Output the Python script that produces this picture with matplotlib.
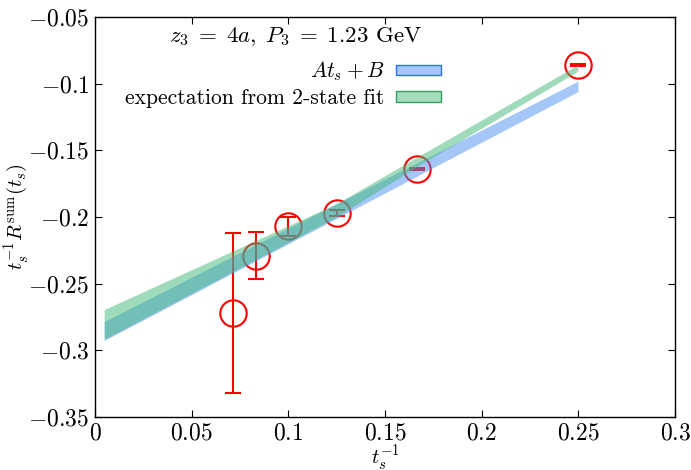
import numpy as np
import matplotlib
matplotlib.use("Agg")
import matplotlib.pyplot as plt
from matplotlib.ticker import FuncFormatter

plt.rcParams['font.family'] = 'serif'
plt.rcParams['font.serif'] = ['cmr10', 'DejaVu Serif']
plt.rcParams['mathtext.fontset'] = 'cm'
plt.rcParams['axes.unicode_minus'] = False

# data points: t_s^{-1}, ratio and error
inv_ts = [1/14, 1/12, 1/10, 1/8, 1/6, 1/4]
ratio = [-0.272, -0.229, -0.207, -0.197, -0.164, -0.086]
ratio_err = [0.060, 0.0175, 0.007, 0.002, 0.001, 0.001]

# linear fit band A t_s + B
fit_x = [0.005, 0.25]
fit_hi = [-0.2788, -0.0985]
fit_lo = [-0.293, -0.1063]

# expectation from 2-state fit
exp_x = [0.005, 0.125, 0.1667, 0.25]
exp_hi = [-0.2698, -0.1905, -0.1555, -0.0862]
exp_lo = [-0.292, -0.2005, -0.1625, -0.091]

fig = plt.figure(figsize=(6.91, 4.70), dpi=100)
ax = fig.add_axes([0.1375, 0.1128, 0.8395, 0.851])

ax.errorbar(inv_ts, ratio, yerr=ratio_err, fmt='o', color='red',
            mfc='none', mec='red', ms=19, mew=1.5, elinewidth=1.5,
            capsize=6, capthick=1.5, zorder=2)

ax.fill_between(fit_x, fit_lo, fit_hi, facecolor='#4a90f0', alpha=0.5,
                edgecolor='none', zorder=3)
ax.fill_between(exp_x, exp_lo, exp_hi, facecolor='#40b878', alpha=0.5,
                edgecolor='none', zorder=4)

# legend proxies
h1 = plt.Rectangle((0, 0), 1, 1, facecolor='#a4c8f8', edgecolor='#2a70f0', lw=1)
h2 = plt.Rectangle((0, 0), 1, 1, facecolor='#a6dcbc', edgecolor='#30a060', lw=1)
ax.legend([h1, h2], ['$At_s+B$', 'expectation from 2-state fit'],
          loc='upper right', bbox_to_anchor=(0.612, 0.915), frameon=False,
          markerfirst=False, handlelength=2.1, handleheight=0.35,
          labelspacing=0.25, fontsize=15.5, borderaxespad=0, handletextpad=0.55)

ax.text(0.345, 0.95, r'$z_3\;=\;4a,\;P_3\;=\;1.23$ GeV', transform=ax.transAxes,
        ha='center', va='center', fontsize=16.5)

ax.set_xlim(0, 0.3)
ax.set_ylim(-0.35, -0.05)
ax.set_xticks(np.arange(0, 0.31, 0.05))
ax.set_yticks(np.arange(-0.35, -0.049, 0.05))
fmt = FuncFormatter(lambda v, p: '$%g$' % round(v, 3))
ax.xaxis.set_major_formatter(fmt)
ax.yaxis.set_major_formatter(fmt)
ax.tick_params(direction='in', top=True, right=True, length=5, width=0.8,
               labelsize=17, pad=4)
for s in ax.spines.values():
    s.set_linewidth(1.0)

ax.set_xlabel('$t_s^{-1}$', fontsize=15, labelpad=-1)
ax.set_ylabel(r'$t_s^{-1}R^{\rm sum}(t_s)$', fontsize=15, labelpad=-2)

fig.savefig('out.png', dpi=100)
